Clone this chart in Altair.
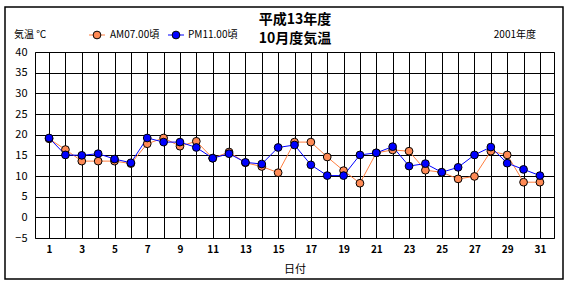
import altair as alt
import pandas as pd

days = list(range(1, 32))
am = [19.0, 16.4, 13.6, 13.6, 13.6, 13.0, 17.8, 19.2, 17.2, 18.4, 14.3, 15.8, 13.2, 12.3, 10.8,
      18.2, 18.2, 14.6, 11.3, 8.25, 15.6, 16.3, 16.0, 11.4, 10.9, 9.3, 9.9, 16.0, 15.1, 8.5, 8.5]
pm = [19.2, 15.1, 15.0, 15.4, 14.1, 13.2, 19.2, 18.2, 18.2, 16.9, 14.3, 15.4, 13.3, 12.9, 16.9,
      17.5, 12.7, 10.1, 10.1, 15.1, 15.6, 17.1, 12.4, 13.0, 10.9, 12.1, 15.1, 17.0, 13.1, 11.6, 10.1]
series = ["AM07.00頃", "PM11.00頃"]
line_colors = ["#FF7F40", "#0000FF"]
fill_colors = ["#FF8A55", "#0000FF"]
y_ticks = list(range(-5, 41, 5))
title_lines = ["平成13年度", "10月度気温"]
unit_label = "気温  ℃"
year_label = "2001年度"
x_title = "日付"

FONT = "Noto Sans CJK JP"

rows = []
for name, vals in zip(series, [am, pm]):
    for d, v in zip(days, vals):
        rows.append({"day": d, "temp": v, "series": name})
df = pd.DataFrame(rows)

W, H = 519, 186
L, T = 35, 52

xscale = alt.Scale(domain=[0.14, 31.86], nice=False, zero=False)
yscale = alt.Scale(domain=[-5, 40], nice=False, zero=False)

xaxis = alt.Axis(values=days, labelExpr="datum.value % 2 == 1 ? datum.label : ''",
                 grid=True, gridColor="black", gridOpacity=1, gridWidth=1,
                 ticks=False, domain=False, labelOverlap=False, labelFlush=False,
                 labelFont=FONT, labelFontSize=10, labelFontWeight="bold", labelColor="black",
                 labelPadding=6, title=x_title, titleFont=FONT, titleFontSize=11,
                 titleFontWeight="normal", titleColor="black", titlePadding=9)
yaxis = alt.Axis(values=y_ticks, grid=True, gridColor="black", gridOpacity=1, gridWidth=1,
                 ticks=False, domain=False, labelOverlap=False, labelFont=FONT, labelFontSize=11,
                 labelColor="black", labelPadding=8, title=None)

X = alt.X("day:Q", scale=xscale, axis=xaxis)
Y = alt.Y("temp:Q", scale=yscale, axis=yaxis)

base = alt.Chart(df)
lines = base.mark_line(strokeWidth=1).encode(
    x=X, y=Y,
    color=alt.Color("series:N", scale=alt.Scale(domain=series, range=line_colors), legend=None),
    detail="series:N",
)
points = base.mark_point(filled=True, size=60, stroke="black", strokeWidth=1, opacity=1).encode(
    x=X, y=Y,
    fill=alt.Fill("series:N", scale=alt.Scale(domain=series, range=fill_colors), legend=None),
)

def txt(s, x, y, size=11, weight="normal", align="left"):
    return alt.Chart(pd.DataFrame({"t": [s]})).mark_text(
        font=FONT, fontSize=size, fontWeight=weight, align=align, baseline="middle", color="black"
    ).encode(x=alt.value(x - L), y=alt.value(y - T), text="t:N")

one = pd.DataFrame({"a": [0]})
legend_layers = []
leg = [(89, 105, 97, 110), (168, 184, 176, 188)]
for i, (x1, x2, cx, tx) in enumerate(leg):
    legend_layers.append(alt.Chart(one).mark_rule(color=line_colors[i], strokeWidth=1).encode(
        x=alt.value(x1 - L), x2=alt.value(x2 - L), y=alt.value(35 - T)))
    legend_layers.append(alt.Chart(one).mark_point(filled=True, size=60, fill=fill_colors[i],
                                                   stroke="black", strokeWidth=1, opacity=1).encode(
        x=alt.value(cx - L), y=alt.value(35 - T)))
    legend_layers.append(txt(series[i], tx, 35, size=10))

frame = alt.Chart(one).mark_rect(fillOpacity=0, stroke="black", strokeWidth=1.5).encode(
    x=alt.value(5 - L), x2=alt.value(563 - L), y=alt.value(7 - T), y2=alt.value(279 - T))

chart = alt.layer(
    frame, lines, points,
    txt(title_lines[0], 295, 20, size=14, weight="bold", align="center"),
    txt(title_lines[1], 295, 39, size=14, weight="bold", align="center"),
    txt(unit_label, 14, 35, size=10),
    txt(year_label, 536, 35, size=10, align="right"),
    *legend_layers,
).properties(
    width=W, height=H,
    autosize=alt.AutoSizeParams(type="none"),
    padding={"left": L, "top": T, "right": 570 - L - W, "bottom": 290 - T - H},
    background="white",
).configure_view(stroke="black", strokeWidth=1)

chart.save("out.html", embed_options={"renderer": "svg", "actions": False})
